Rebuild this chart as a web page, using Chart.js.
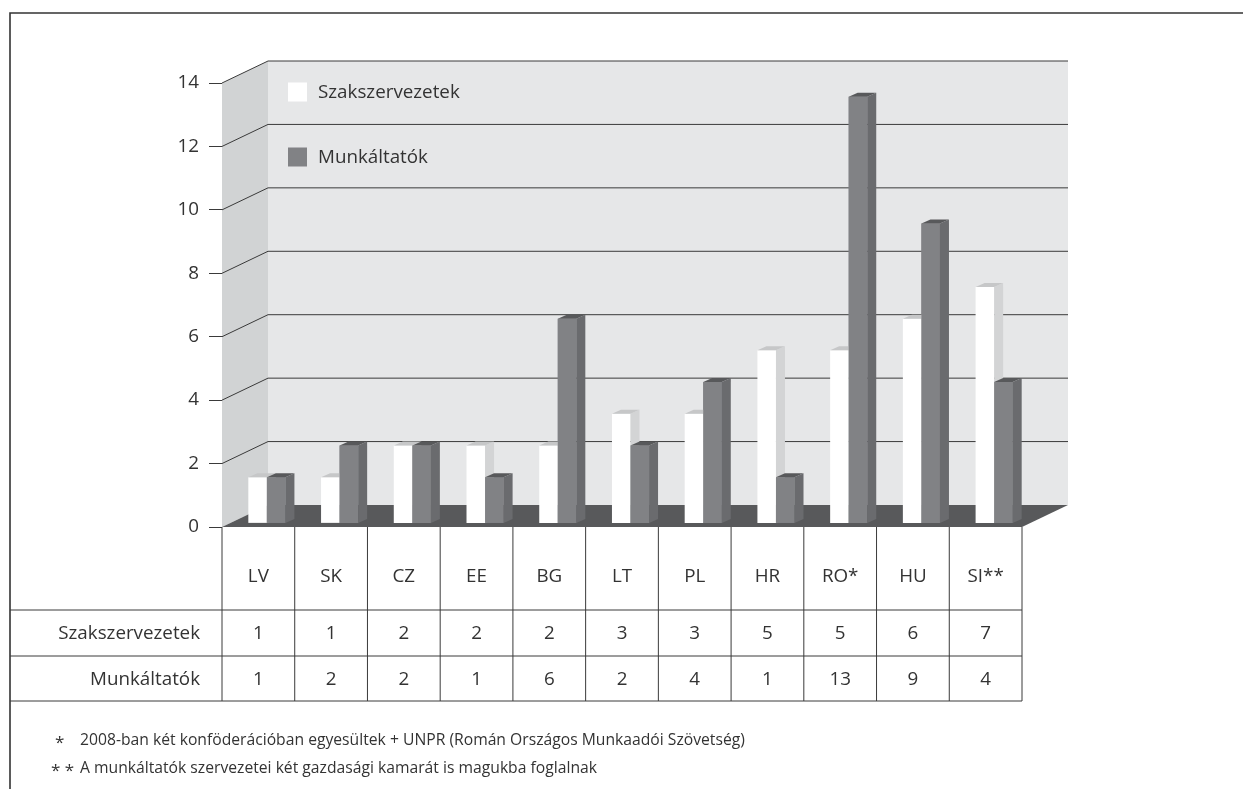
<!DOCTYPE html>
<html>
<head>
<meta charset="utf-8">
<script src="https://cdn.jsdelivr.net/npm/chart.js@4.4.0/dist/chart.umd.min.js"></script>
<style>
  html, body { margin: 0; padding: 0; background: #fff; }
</style>
</head>
<body>
<canvas id="chart" width="1243" height="789"></canvas>
<script>
const categories = ['LV', 'SK', 'CZ', 'EE', 'BG', 'LT', 'PL', 'HR', 'RO*', 'HU', 'SI**'];
const unions = [1, 1, 2, 2, 2, 3, 3, 5, 5, 6, 7];
const employers = [1, 2, 2, 1, 6, 2, 4, 1, 13, 9, 4];
const seriesLabels = ['Szakszervezetek', 'Munkáltatók'];
const footnotes = [
  ['*', '2008-ban két konföderációban egyesültek + UNPR (Román Országos Munkaadói Szövetség)'],
  ['**', 'A munkáltatók szervezetei két gazdasági kamarát is magukba foglalnak']
];

const FONT = '"Open Sans", "Noto Sans", sans-serif';
const LABEL_SIZE = 18.8;
const TEXT = '#333';
const LINE = '#3a3a3a';

// oblique depth of the walls and of the bars themselves
const WALL = { dx: 46, dy: 22 };
const BAR = { dx: 9, dy: 4 };

const colors = {
  unions: { front: '#ffffff', top: '#c6c7c8', side: '#d3d4d5' },
  employers: { front: '#818285', top: '#58595b', side: '#6a6b6e' },
  backWall: '#e6e7e8',
  sideWall: '#d1d3d4',
  floor: '#58595b'
};

function poly(ctx, pts, fill) {
  ctx.beginPath();
  ctx.moveTo(pts[0][0], pts[0][1]);
  for (let i = 1; i < pts.length; i++) ctx.lineTo(pts[i][0], pts[i][1]);
  ctx.closePath();
  ctx.fillStyle = fill;
  ctx.fill();
}

function line(ctx, x1, y1, x2, y2) {
  ctx.beginPath();
  ctx.moveTo(x1, y1);
  ctx.lineTo(x2, y2);
  ctx.stroke();
}

// side wall, back wall, floor and the gridlines running over them
const walls = {
  id: 'walls',
  beforeDatasetsDraw(chart) {
    const { ctx, chartArea: { left, right, top, bottom } } = chart;
    const y = chart.scales.y;
    ctx.save();
    poly(ctx, [[left, top], [left + WALL.dx, top - WALL.dy], [left + WALL.dx, bottom - WALL.dy], [left, bottom]], colors.sideWall);
    poly(ctx, [[left + WALL.dx, top - WALL.dy], [right + WALL.dx, top - WALL.dy], [right + WALL.dx, bottom - WALL.dy], [left + WALL.dx, bottom - WALL.dy]], colors.backWall);
    ctx.strokeStyle = LINE;
    ctx.lineWidth = 1;
    y.ticks.forEach(t => {
      if (t.value === 0) return;
      const py = y.getPixelForValue(t.value);
      ctx.beginPath();
      ctx.moveTo(left, py);
      ctx.lineTo(left + WALL.dx, py - WALL.dy);
      ctx.lineTo(right + WALL.dx, py - WALL.dy);
      ctx.stroke();
    });
    poly(ctx, [[left, bottom], [right, bottom], [right + WALL.dx, bottom - WALL.dy], [left + WALL.dx, bottom - WALL.dy]], colors.floor);
    ctx.restore();
  }
};

// tops and right-hand faces of the bars, pair by pair from left to right
const barFaces = {
  id: 'barFaces',
  afterDatasetsDraw(chart) {
    const { ctx } = chart;
    const metas = [chart.getDatasetMeta(0), chart.getDatasetMeta(1)];
    const shades = [colors.unions, colors.employers];
    ctx.save();
    for (let i = 0; i < categories.length; i++) {
      metas.forEach((meta, k) => {
        const bar = meta.data[i];
        const { x, y, base, width } = bar.getProps(['x', 'y', 'base', 'width'], true);
        const x0 = x - width / 2, x1 = x + width / 2;
        if (k > 0) bar.draw(ctx);
        poly(ctx, [[x1, y], [x1 + BAR.dx, y - BAR.dy], [x1 + BAR.dx, base - BAR.dy], [x1, base]], shades[k].side);
        poly(ctx, [[x0, y], [x1, y], [x1 + BAR.dx, y - BAR.dy], [x0 + BAR.dx, y - BAR.dy]], shades[k].top);
      });
    }
    ctx.restore();
  }
};

// legend on the back wall, data table under the floor, frame and notes
const tableAndNotes = {
  id: 'tableAndNotes',
  afterDraw(chart) {
    const { ctx, chartArea: { left, right, bottom } } = chart;
    const xs = chart.scales.x;
    const frameX = 10, frameY = 13;
    const colW = (right - left) / categories.length;
    const rows = [bottom, bottom + 83, bottom + 129, bottom + 174];
    ctx.save();

    // legend
    const legendX = left + 66;
    ctx.font = LABEL_SIZE + 'px ' + FONT;
    [[92, colors.unions.front], [157, colors.employers.front]].forEach(([cy, fill], k) => {
      ctx.fillStyle = fill;
      ctx.fillRect(legendX, cy - 9.5, 19, 19);
      ctx.fillStyle = TEXT;
      ctx.textAlign = 'left';
      ctx.textBaseline = 'middle';
      ctx.fillText(seriesLabels[k], legendX + 30, cy + 1);
    });

    // frame
    ctx.strokeStyle = '#333';
    ctx.lineWidth = 1.6;
    ctx.beginPath();
    ctx.moveTo(chart.width, frameY);
    ctx.lineTo(frameX, frameY);
    ctx.lineTo(frameX, chart.height);
    ctx.stroke();

    // table rules
    ctx.strokeStyle = LINE;
    ctx.lineWidth = 1;
    for (let i = 0; i < categories.length; i++) {
      const x = xs.getPixelForValue(i) - colW / 2;
      line(ctx, x, rows[0], x, rows[3]);
    }
    line(ctx, right, rows[0], right, rows[3]);
    rows.slice(1).forEach(ry => line(ctx, frameX, ry, right, ry));

    // table text
    ctx.fillStyle = TEXT;
    ctx.textBaseline = 'middle';
    ctx.textAlign = 'center';
    categories.forEach((c, i) => {
      const cx = xs.getPixelForValue(i);
      ctx.fillText(c, cx, (rows[0] + rows[1]) / 2 + 8);
      ctx.fillText(String(unions[i]), cx, (rows[1] + rows[2]) / 2 + 1);
      ctx.fillText(String(employers[i]), cx, (rows[2] + rows[3]) / 2 + 1);
    });
    ctx.textAlign = 'right';
    ctx.fillText(seriesLabels[0], left - 22, (rows[1] + rows[2]) / 2 + 1);
    ctx.fillText(seriesLabels[1], left - 22, (rows[2] + rows[3]) / 2 + 1);

    // notes
    ctx.textAlign = 'left';
    ctx.font = '17px ' + FONT;
    footnotes.forEach(([mark], k) => {
      ctx.fillText(mark.split('').join(' '), mark.length > 1 ? 51 : 55, 743 + k * 28);
    });
    ctx.font = '15.7px ' + FONT;
    footnotes.forEach(([, text], k) => {
      ctx.fillText(text, 80, 741 + k * 28);
    });
    ctx.restore();
  }
};

new Chart(document.getElementById('chart'), {
  type: 'bar',
  data: {
    labels: categories,
    datasets: [
      {
        label: seriesLabels[0],
        data: unions.map((v, i) => ({ x: i, y: v })),
        backgroundColor: colors.unions.front,
        xAxisID: 'xBars',
        yAxisID: 'yBars',
        base: -0.44
      },
      {
        label: seriesLabels[1],
        data: employers.map((v, i) => ({ x: i, y: v })),
        backgroundColor: colors.employers.front,
        xAxisID: 'xBars',
        yAxisID: 'yBars',
        base: -0.44
      }
    ]
  },
  options: {
    responsive: false,
    animation: false,
    events: [],
    categoryPercentage: 0.51,
    barPercentage: 1,
    borderWidth: 0,
    layout: { padding: { left: 0, top: 83, right: 221, bottom: 262 } },
    plugins: {
      legend: { display: false },
      tooltip: { enabled: false },
      title: { display: false }
    },
    scales: {
      x: {
        type: 'category',
        offset: true,
        display: false
      },
      // bars stand a little way back on the floor, so they sit
      // right of the column centres and read against the back wall
      xBars: {
        type: 'linear',
        display: false,
        offset: false,
        min: -0.5 - 0.117,
        max: categories.length - 0.5 - 0.117
      },
      yBars: {
        type: 'linear',
        display: false,
        min: -0.57,
        max: 14 - 0.57
      },
      y: {
        type: 'linear',
        min: 0,
        max: 14,
        afterFit(scale) { scale.width = 222; },
        border: { display: false },
        grid: {
          drawOnChartArea: false,
          drawTicks: true,
          tickLength: 13,
          color: LINE
        },
        ticks: {
          stepSize: 2,
          padding: 10,
          color: TEXT,
          font: { family: FONT, size: LABEL_SIZE }
        }
      }
    }
  },
  plugins: [walls, barFaces, tableAndNotes]
});
</script>
</body>
</html>
